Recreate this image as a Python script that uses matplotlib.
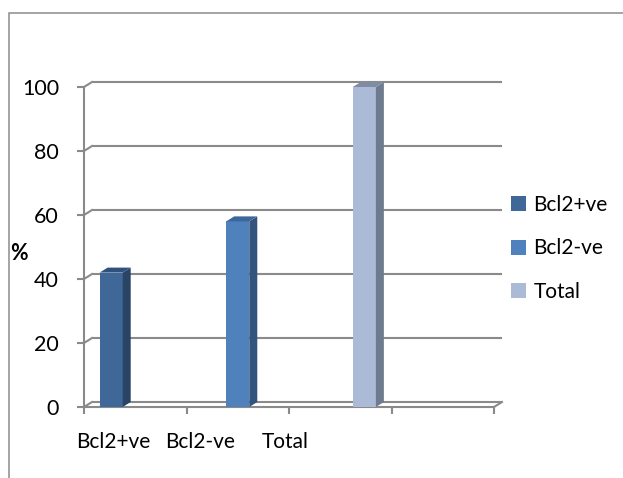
import matplotlib.pyplot as plt
from matplotlib.patches import Polygon, Rectangle

plt.rcParams['font.family'] = ['Lato', 'DejaVu Sans']

# chart data
categories = ["Bcl2+ve", "Bcl2-ve", "Total"]
series_names = ["Bcl2+ve", "Bcl2-ve", "Total"]
percent = [42, 58, 100]
y_ticks = [0, 20, 40, 60, 80, 100]

# colours: front, side, top faces
front_cols = ['#3F6899', '#4F81BD', '#AABAD7']
side_cols = ['#2A4465', '#33547C', '#6E7A8E']
top_cols = ['#30507E', '#3D669A', '#7F8CA4']
grid_col = '#8A8A8A'

W, H = 623, 478
fig = plt.figure(figsize=(W / 100, H / 100), dpi=100)

# outer frame (runs off the right and bottom edge)
fig.patches.append(Rectangle((9 / W, -0.1), 1.2, 1 - 13 / H + 0.1, transform=fig.transFigure,
                             fill=False, ec='#8C8C8C', lw=1.1))

# front plane of the plot
ax = fig.add_axes([84 / W, 1 - 407 / H, 410 / W, 320 / H])
n_cat = 4  # one empty category at the right
ax.set_xlim(-0.5, n_cat - 0.5)
ax.set_ylim(0, 100)

# depth of the fake 3d box, in pixels -> data units
dx_px, dy_px = 8, 5
ddx = dx_px / (410 / n_cat)
ddy = dy_px / (320 / 100)

# back wall gridlines and the diagonals to the front axis
for v in y_ticks:
    ax.plot([-0.5 + ddx, n_cat - 0.5 + ddx], [v + ddy, v + ddy], color=grid_col, lw=1.5,
            clip_on=False, zorder=1, solid_capstyle='butt')
    ax.plot([-0.5, -0.5 + ddx], [v, v + ddy], color=grid_col, lw=1.5, clip_on=False, zorder=1)
ax.plot([n_cat - 0.5, n_cat - 0.5 + ddx], [0, ddy], color=grid_col, lw=1.5, clip_on=False, zorder=1)

# clustered bars: series j only has a value in category j
bw = 0.225
for j, v in enumerate(percent):
    x = j + (j - 1) * 0.235
    ax.bar(x, v, width=bw, color=front_cols[j], label=series_names[j], zorder=3, lw=0)
    xl, xr = x - bw / 2, x + bw / 2
    ax.add_patch(Polygon([(xr, 0), (xr + ddx, ddy), (xr + ddx, v + ddy), (xr, v)],
                         closed=True, fc=side_cols[j], ec='none', zorder=3, clip_on=False))
    ax.add_patch(Polygon([(xl, v), (xr, v), (xr + ddx, v + ddy), (xl + ddx, v + ddy)],
                         closed=True, fc=top_cols[j], ec='none', zorder=3, clip_on=False))

for s in ['top', 'right']:
    ax.spines[s].set_visible(False)
for s in ['left', 'bottom']:
    ax.spines[s].set_color(grid_col)
    ax.spines[s].set_linewidth(1.5)
    ax.spines[s].set_zorder(2)

ax.set_yticks(y_ticks)
ax.tick_params(axis='y', length=5, width=1.5, color=grid_col, pad=13, labelsize=15.5)

# category boundary ticks + labels (labels sit a bit left of the centres)
ax.set_xticks([i - 0.5 for i in range(n_cat + 1)])
ax.set_xticklabels([])
ax.tick_params(axis='x', which='major', length=5, width=1.5, color=grid_col)
ax.set_xticks([-0.21, 0.63, 1.46], minor=True)
ax.set_xticklabels(categories, minor=True)
ax.tick_params(axis='x', which='minor', length=0, pad=18, labelsize=15)

fig.text(19 / W, 1 - 253 / H, '%', fontsize=15.5, fontweight='bold', ha='center', va='center')

fig.legend(loc='center left', bbox_to_anchor=(511 / W, 1 - 248.5 / H), frameon=False,
           fontsize=15, handlelength=0.72, handleheight=0.72, handletextpad=0.35,
           labelspacing=1.12, borderpad=0, borderaxespad=0)

fig.savefig('out.png', dpi=100)
